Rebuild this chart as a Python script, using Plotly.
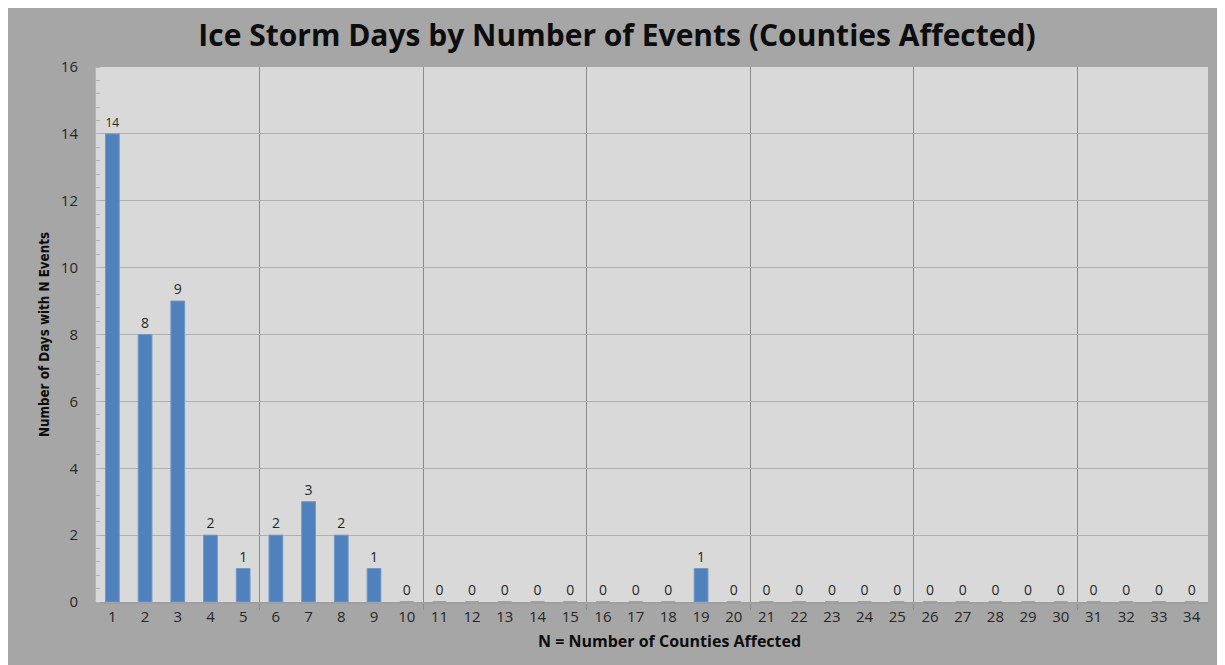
import plotly.graph_objects as go

counties = list(range(1, 35))
days = [14, 8, 9, 2, 1, 2, 3, 2, 1, 0,
        0, 0, 0, 0, 0, 0, 0, 0, 1, 0,
        0, 0, 0, 0, 0, 0, 0, 0, 0, 0,
        0, 0, 0, 0]
y_ticks = [0, 2, 4, 6, 8, 10, 12, 14, 16]
group_bounds = [5.5, 10.5, 15.5, 20.5, 25.5, 30.5]

title_text = "Ice Storm Days by Number of Events (Counties Affected)"
x_title = "N = Number of Counties Affected"
y_title = "Number of Days with N Events"

# page has an 8px body margin; figure sized to fit the window
W, H = 1217, 657
ml, mr, mt, mb = 88, 17, 59, 63
pw, ph = W - ml - mr, H - mt - mb

fig = go.Figure()
fig.add_trace(go.Bar(
    x=counties, y=days,
    width=0.42,
    marker=dict(color="#4f81bd", line=dict(color="#6f97c8", width=1)),
    text=[str(v) for v in days],
    textposition="outside",
    textfont=dict(family="Open Sans", size=14, color="#262626"),
    cliponaxis=False,
))

fig.update_layout(
    width=W, height=H,
    margin=dict(l=ml, r=mr, t=mt, b=mb),
    paper_bgcolor="#a6a6a6",
    plot_bgcolor="#d9d9d9",
    showlegend=False,
    title=dict(text="<b>" + title_text + "</b>",
               font=dict(family="Open Sans", size=30, color="#0d0d0d"),
               x=609 / W, xanchor="center", xref="container",
               y=1 - 27 / H, yanchor="middle"),
    annotations=[
        dict(text="<b>" + x_title + "</b>", xref="paper", yref="paper",
             x=(669 - 96) / pw, y=-(641 - 602) / ph,
             xanchor="center", yanchor="middle", showarrow=False,
             font=dict(family="Open Sans", size=16, color="#0d0d0d")),
    ],
)

fig.update_xaxes(
    range=[0.5, 34.5],
    tickmode="array", tickvals=counties, ticktext=[str(c) for c in counties],
    ticks="", showgrid=False, zeroline=False,
    showline=True, linecolor="#a0a0a0", linewidth=2,
    tickfont=dict(family="Open Sans", size=15, color="#262626"),
    minor=dict(tickmode="array", tickvals=group_bounds, showgrid=True,
               gridcolor="#8c8c8c", gridwidth=1, ticks="outside",
               ticklen=6, tickcolor="#8c8c8c"),
)

fig.update_yaxes(
    range=[0, 16],
    tickmode="array", tickvals=y_ticks,
    ticks="outside", ticklen=8, tickcolor="#a6a6a6",
    ticklabelstandoff=6,
    showgrid=True, gridcolor="#b0b0b0", gridwidth=1,
    zeroline=False,
    showline=True, linecolor="#b4b4b4", linewidth=1,
    tickfont=dict(family="Open Sans", size=15, color="#262626"),
    minor=dict(dtick=0.4, ticks="inside", ticklen=4, tickcolor="#b4b4b4", showgrid=False),
    title=dict(text="<b>" + y_title + "</b>",
               font=dict(family="DejaVu Sans Condensed, Open Sans", size=13.3, color="#0d0d0d"),
               standoff=8),
)

fig.write_html("out.html")
